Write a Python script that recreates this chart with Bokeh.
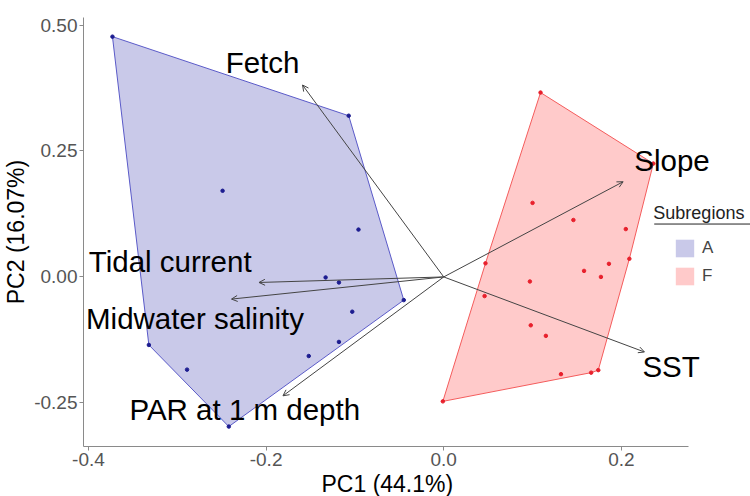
from bokeh.plotting import figure
from bokeh.models import (Arrow, OpenHead, Label, Legend, LegendItem, FixedTicker,
                          ColumnDataSource, Range1d, Title)
from bokeh.core.properties import value
from bokeh.embed import file_html
from bokeh.resources import INLINE

# ---- data ----
a_pc1 = [-0.373, -0.107, -0.249, -0.096, -0.133, -0.118, -0.045, -0.103, -0.332, -0.118, -0.152, -0.289, -0.242]
a_pc2 = [0.477, 0.320, 0.171, 0.094, -0.001, -0.011, -0.046, -0.069, -0.135, -0.129, -0.157, -0.184, -0.297]

f_pc1 = [0.109, 0.100, 0.146, 0.205, 0.209, 0.186, 0.158, 0.177, 0.047, 0.097, 0.046, 0.098, 0.115, 0.132, 0.166, 0.174, -0.001, 0.236]
f_pc2 = [0.366, 0.147, 0.113, 0.095, 0.036, 0.026, 0.012, 0.000, 0.027, -0.009, -0.038, -0.096, -0.117, -0.193, -0.190, -0.185, -0.247, 0.225]

var_names = ["Fetch", "Tidal current", "Midwater salinity", "PAR at 1 m depth", "Slope", "SST"]
load_pc1 = [-0.159, -0.208, -0.239, -0.181, 0.202, 0.226]
load_pc2 = [0.381, -0.011, -0.044, -0.236, 0.189, -0.149]
label_pc1 = [-0.204, -0.308, -0.280, -0.224, 0.257, 0.256]
label_pc2 = [0.426, 0.030, -0.083, -0.263, 0.232, -0.178]

x_ticks = [-0.4, -0.2, 0.0, 0.2]
x_tick_labels = ["-0.4", "-0.2", "0.0", "0.2"]
y_ticks = [-0.25, 0.0, 0.25, 0.50]
y_tick_labels = ["-0.25", "0.00", "0.25", "0.50"]

groups = ["A", "F"]


def hull(xs, ys):
    pts = sorted(set(zip(xs, ys)))
    def cross(o, a, b):
        return (a[0] - o[0]) * (b[1] - o[1]) - (a[1] - o[1]) * (b[0] - o[0])
    lower, upper = [], []
    for pt in pts:
        while len(lower) >= 2 and cross(lower[-2], lower[-1], pt) <= 0:
            lower.pop()
        lower.append(pt)
    for pt in reversed(pts):
        while len(upper) >= 2 and cross(upper[-2], upper[-1], pt) <= 0:
            upper.pop()
        upper.append(pt)
    h = lower[:-1] + upper[:-1]
    return [q[0] for q in h], [q[1] for q in h]


FONT = "Liberation Sans"
A_FILL, F_FILL = "#c9c9e9", "#ffcaca"
X0, X1_AXIS, X1_VIEW = -0.4056, 0.2753, 0.3454
Y0, Y1 = -0.3366, 0.515

p = figure(width=750, height=496, output_backend="svg", toolbar_location=None,
           x_range=Range1d(X0, X1_VIEW), y_range=Range1d(Y0, Y1),
           min_border_left=82, min_border_right=0, min_border_top=17, min_border_bottom=0)
p.outline_line_color = None
p.xgrid.visible = False
p.ygrid.visible = False
p.background_fill_color = "white"

ha_x, ha_y = hull(a_pc1, a_pc2)
hf_x, hf_y = hull(f_pc1, f_pc2)

# hull fills (used for the legend keys) and hull outlines
ra = p.patch(ha_x, ha_y, fill_color=A_FILL, line_color=None)
rf = p.patch(hf_x, hf_y, fill_color=F_FILL, line_color=None)
p.line(ha_x + ha_x[:1], ha_y + ha_y[:1], line_color="#5a5ac8", line_width=1)
p.line(hf_x + hf_x[:1], hf_y + hf_y[:1], line_color="#f45c5c", line_width=1)

p.scatter(a_pc1, a_pc2, size=3.5, color="#1c1c90")
p.scatter(f_pc1, f_pc2, size=3.5, color="#e8202c")

for x1, y1 in zip(load_pc1, load_pc2):
    p.add_layout(Arrow(end=OpenHead(size=6, line_color="#444444", line_width=1),
                       x_start=0, y_start=0, x_end=x1, y_end=y1,
                       line_color="#444444", line_width=1))

src = ColumnDataSource(dict(x=label_pc1, y=label_pc2, t=var_names))
p.text(x="x", y="y", text="t", source=src, text_align="center", text_baseline="middle",
       text_font=value(FONT), text_font_size="29.5px", text_color="black")

# axes
for ax in (p.xaxis[0], p.yaxis[0]):
    ax.axis_line_color = "#8a8a8a"
    ax.major_tick_line_color = "#8a8a8a"
    ax.major_tick_out = 4
    ax.major_tick_in = 0
    ax.minor_tick_line_color = None
    ax.major_label_text_font = FONT
    ax.major_label_text_font_size = "19px"
    ax.major_label_text_color = "#555555"
    ax.axis_label_text_font = FONT
    ax.axis_label_text_font_size = "23px"
    ax.axis_label_text_font_style = "normal"
    ax.axis_label_text_color = "black"
    ax.major_label_standoff = 2
    ax.axis_label_standoff = 2

p.xaxis.bounds = (X0, X1_AXIS)
p.xaxis.ticker = FixedTicker(ticks=x_ticks)
p.xaxis.major_label_overrides = dict(zip(x_ticks, x_tick_labels))
p.yaxis.ticker = FixedTicker(ticks=y_ticks)
p.yaxis.major_label_overrides = dict(zip(y_ticks, y_tick_labels))
p.yaxis.axis_label = "PC2 (16.07%)"

# x-axis title centred under the panel (not under the wider frame)
p.add_layout(Title(text="PC1 (44.1%)", align="left", offset=238, text_font=FONT,
                   text_font_size="23px", text_font_style="normal", text_color="black",
                   standoff=0), "below")

# legend
legend = Legend(items=[LegendItem(label=groups[0], renderers=[ra]),
                       LegendItem(label=groups[1], renderers=[rf])],
                location=(590, 159), orientation="vertical",
                glyph_width=23, glyph_height=22, spacing=6, padding=0, margin=0,
                label_standoff=6, label_text_font=FONT, label_text_font_size="17px",
                border_line_color=None, background_fill_alpha=0)
p.add_layout(legend, "center")

p.add_layout(Label(x=0.236, y=0.127, text="Subregions", text_font=FONT,
                   text_font_size="18px", text_align="left", text_baseline="middle",
                   text_color="#222222"))
p.add_layout(Arrow(start=None, end=None, x_start=0.237, y_start=0.105, x_end=0.345, y_end=0.105,
                   line_color="#222222", line_width=1))

open("out.html", "w").write(file_html(p, INLINE))
